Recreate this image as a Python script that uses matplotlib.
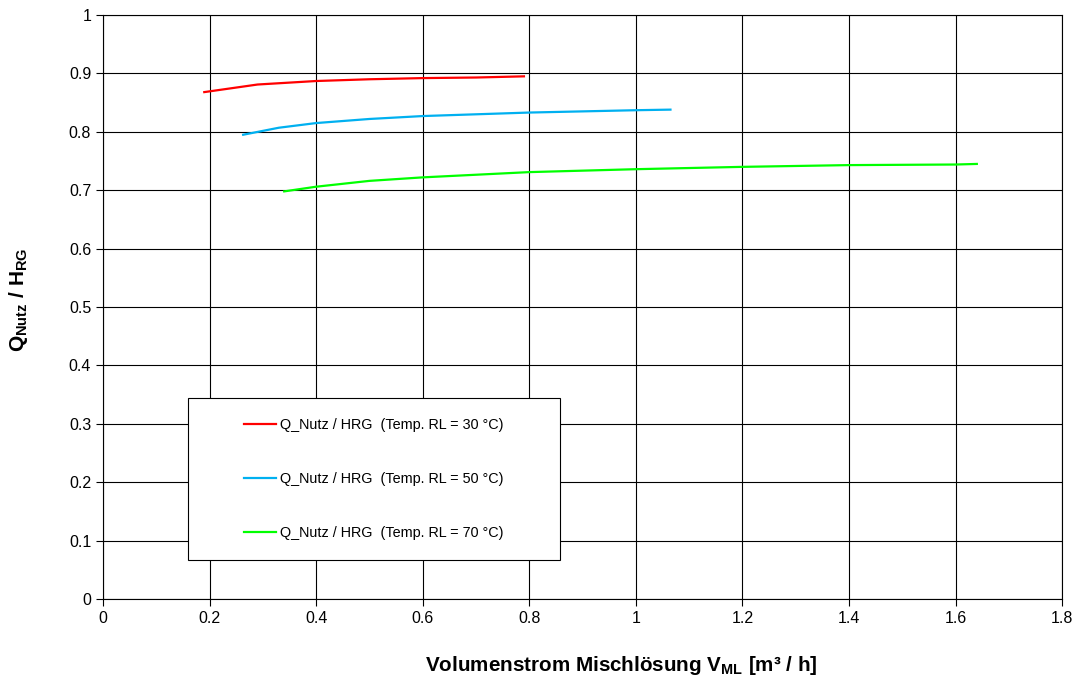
import matplotlib
matplotlib.use('Agg')
import matplotlib.pyplot as plt
from matplotlib.patches import Rectangle

plt.rcParams['font.family'] = ['Liberation Sans', 'DejaVu Sans']
plt.rcParams['mathtext.fontset'] = 'custom'
plt.rcParams['mathtext.rm'] = 'Liberation Sans'
plt.rcParams['mathtext.bf'] = 'Liberation Sans:bold'

# Volumenstrom [m3/h] and Q_Nutz / H_RG for the three return temperatures
x30 = [0.19, 0.29, 0.40, 0.50, 0.60, 0.70, 0.79]
y30 = [0.868, 0.881, 0.887, 0.890, 0.892, 0.893, 0.895]
x50 = [0.263, 0.33, 0.40, 0.50, 0.60, 0.70, 0.80, 0.90, 1.00, 1.065]
y50 = [0.795, 0.807, 0.815, 0.822, 0.827, 0.830, 0.833, 0.835, 0.837, 0.838]
x70 = [0.34, 0.40, 0.50, 0.60, 0.80, 1.00, 1.20, 1.40, 1.60, 1.64]
y70 = [0.698, 0.706, 0.716, 0.722, 0.731, 0.736, 0.740, 0.743, 0.744, 0.745]

labels = ['Q_Nutz / HRG  (Temp. RL = 30 °C)',
          'Q_Nutz / HRG  (Temp. RL = 50 °C)',
          'Q_Nutz / HRG  (Temp. RL = 70 °C)']
colors = ['#ff0000', '#00b0f0', '#00ff00']

fig = plt.figure(figsize=(10.8, 6.83), dpi=100)
ax = fig.add_axes([0.0954, 0.123, 0.888, 0.855])

for xs, ys, c, lab in zip([x30, x50, x70], [y30, y50, y70], colors, labels):
    ax.plot(xs, ys, '-', color=c, lw=1.6, label=lab)

ax.set_xlim(0, 1.8)
ax.set_ylim(0, 1)
ax.set_xticks([i * 0.2 for i in range(10)])
ax.set_yticks([i * 0.1 for i in range(11)])
ax.set_xticklabels(['0', '0.2', '0.4', '0.6', '0.8', '1', '1.2', '1.4', '1.6', '1.8'])
ax.set_yticklabels(['0', '0.1', '0.2', '0.3', '0.4', '0.5', '0.6', '0.7', '0.8', '0.9', '1'])
ax.tick_params(labelsize=11.5, length=5, width=0.8, color='black', direction='out')
ax.grid(True, color='black', lw=0.8)
ax.set_axisbelow(True)
for s in ax.spines.values():
    s.set_color('black')
    s.set_linewidth(0.8)

ax.set_xlabel(r'Volumenstrom Mischlösung V$_{\mathbf{ML}}$ [m³ / h]',
              fontsize=14.9, fontweight='bold')
ax.xaxis.set_label_coords(0.540, -0.094)
ax.set_ylabel(r'$\mathbf{Q_{Nutz}}$ / $\mathbf{H_{RG}}$',
              fontsize=15, fontweight='bold')
ax.yaxis.set_label_coords(-0.076, 0.512)

# legend frame drawn separately so the padding can match
box = Rectangle((0.0886, 0.0668), 0.388, 0.277, transform=ax.transAxes,
                facecolor='white', edgecolor='black', lw=0.8, zorder=5)
ax.add_patch(box)
leg = ax.legend(loc='center', bbox_to_anchor=(0.2826, 0.2055), frameon=False,
                fontsize=10.4, handlelength=2.2, handletextpad=0.28,
                labelspacing=2.75)
leg.set_zorder(6)

fig.savefig('out.png', dpi=100)
